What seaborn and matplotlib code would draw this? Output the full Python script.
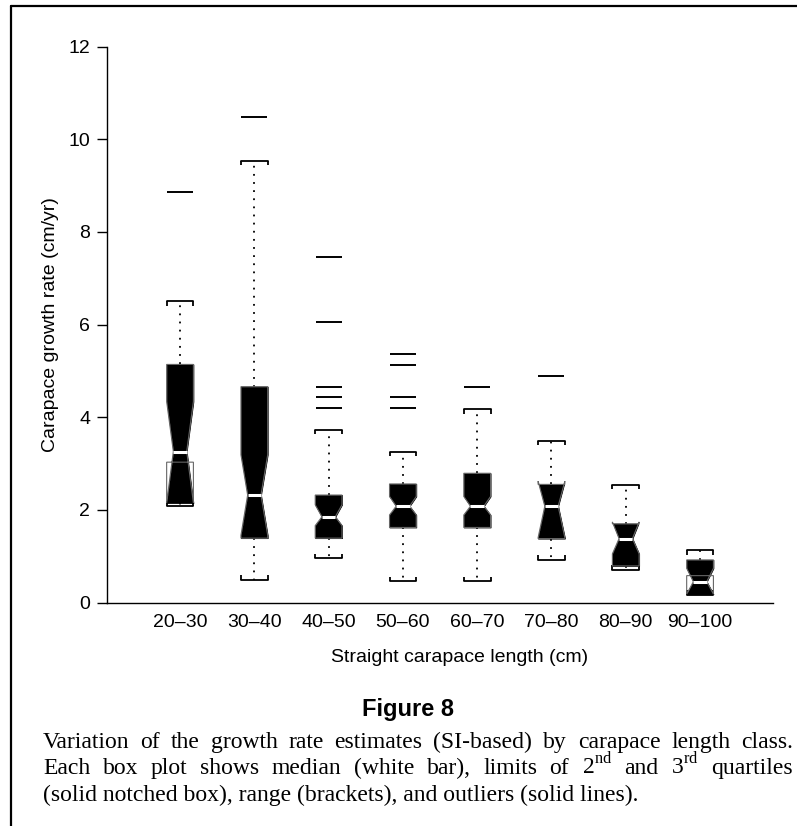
import matplotlib
matplotlib.use("Agg")
import matplotlib.pyplot as plt
from matplotlib.lines import Line2D
import numpy as np
import pandas as pd
import seaborn as sns

# carapace length classes (cm)
classes = ["20–30", "30–40", "40–50", "50–60", "60–70", "70–80", "80–90", "90–100"]

# box plot statistics (cm/yr)
range_low = [2.09, 0.49, 0.95, 0.46, 0.46, 0.92, 0.70, 0.17]
quart_low = [3.03, 1.39, 1.39, 1.62, 1.62, 1.38, 0.79, 0.58]
notch_low = [2.15, 1.45, 1.66, 1.89, 1.89, 1.40, 1.05, 0.18]
median = [3.26, 2.32, 1.85, 2.08, 2.08, 2.08, 1.38, 0.45]
notch_high = [4.34, 3.19, 2.11, 2.29, 2.29, 2.62, 1.74, 0.74]
quart_high = [5.14, 4.66, 2.32, 2.56, 2.79, 2.55, 1.70, 0.92]
range_high = [6.51, 9.54, 3.73, 3.26, 4.18, 3.49, 2.54, 1.13]

# outliers (drawn as solid lines)
outlier_class = ["20–30", "30–40", "40–50", "40–50", "40–50", "40–50", "40–50",
                 "50–60", "50–60", "50–60", "50–60", "60–70", "70–80"]
outlier_rate = [8.86, 10.49, 7.47, 6.06, 4.66, 4.43, 4.19,
                5.37, 5.13, 4.43, 4.19, 4.66, 4.89]

caption_lines = [
    "Variation of the growth rate estimates (SI-based) by carapace length class.",
    r"Each box plot shows median (white bar), limits of 2$^{\mathrm{nd}}$ and 3$^{\mathrm{rd}}$ quartiles",
    "(solid notched box), range (brackets), and outliers (solid lines).",
]

sns.set_theme(style="ticks")
plt.rcParams["font.family"] = ["Liberation Sans", "DejaVu Sans"]
plt.rcParams["mathtext.fontset"] = "custom"
plt.rcParams["mathtext.rm"] = "Liberation Serif"
for key in ["text.color", "axes.labelcolor", "xtick.color", "ytick.color", "axes.edgecolor"]:
    plt.rcParams[key] = "black"

W, H = 797, 826
fig = plt.figure(figsize=(W / 100, H / 100), dpi=100)
fig.patch.set_facecolor("white")
ax = fig.add_axes([107 / W, 1 - 602.5 / H, (773 - 107) / W, (602.5 - 46.7) / H])
ax.set_facecolor("white")

BOX_W = 0.36
pos = np.arange(len(classes))

stats = []
for i, c in enumerate(classes):
    stats.append(dict(label=c, whislo=range_low[i], q1=quart_low[i], cilo=notch_low[i],
                      med=median[i], cihi=notch_high[i], q3=quart_high[i],
                      whishi=range_high[i], fliers=[]))

# box outlines only; the solid body is filled below
ax.bxp(stats, positions=pos, widths=BOX_W, capwidths=BOX_W, shownotches=True,
       patch_artist=True, showfliers=False,
       boxprops=dict(facecolor="none", edgecolor="0.4", linewidth=0.8, zorder=2.6),
       medianprops=dict(color="white", linewidth=2.2, solid_capstyle="butt", zorder=4),
       whiskerprops=dict(color="black", linewidth=1.3, linestyle=(0, (1, 3.5))),
       capprops=dict(color="black", linewidth=1.3))

# solid notched silhouette
for i in range(len(classes)):
    bottom = min(quart_low[i], notch_low[i])
    knots = [bottom, notch_low[i], median[i], notch_high[i], max(quart_high[i], notch_high[i])]
    half = [1, 1, 0.5, 1, 1]
    yy = np.linspace(bottom, quart_high[i], 200)
    hw = np.interp(yy, knots, half) * BOX_W / 2
    ax.fill_betweenx(yy, pos[i] - hw, pos[i] + hw, color="black", linewidth=0.6,
                     edgecolor="black", zorder=2.5)

# bracket ends on the range caps
tick_h = 0.1
xs = np.r_[pos - BOX_W / 2, pos + BOX_W / 2]
hi = np.tile(range_high, 2)
lo = np.tile(range_low, 2)
ax.vlines(xs, hi - tick_h, hi, color="black", linewidth=1.3)
ax.vlines(xs, lo, lo + tick_h, color="black", linewidth=1.3)

out = pd.DataFrame({"pos": [classes.index(c) for c in outlier_class], "rate": outlier_rate})
sns.scatterplot(data=out, x="pos", y="rate", marker="_", s=350, color="black",
                linewidth=1.4, legend=False, zorder=3, ax=ax)

ax.set_xlim(-0.983, 7.982)
ax.set_ylim(0, 12)
ax.set_yticks(range(0, 13, 2))
ax.set_xticks(pos, classes)
ax.tick_params(axis="y", direction="out", length=7, width=1, pad=5, labelsize=14, colors="black")
ax.tick_params(axis="x", length=0, pad=8, labelsize=14, colors="black")
sns.despine(ax=ax)
for s in ["left", "bottom"]:
    ax.spines[s].set_color("black")
    ax.spines[s].set_linewidth(1.0)

ax.set_xlabel("Straight carapace length (cm)", fontsize=14, color="black")
ax.set_ylabel("Carapace growth rate (cm/yr)", fontsize=14, color="black")
ax.xaxis.label.set_va("center")
ax.xaxis.set_label_coords((460 - 107) / (773 - 107), (602.5 - 657) / (602.5 - 46.7))
ax.yaxis.label.set_va("center")
ax.yaxis.set_label_coords((51 - 107) / (773 - 107), 0.5)

# frame around the figure
fig.add_artist(Line2D([11 / W, 1], [1 - 6 / H, 1 - 6 / H], transform=fig.transFigure,
                      color="black", linewidth=1.6))
fig.add_artist(Line2D([11 / W, 11 / W], [0, 1 - 6 / H], transform=fig.transFigure,
                      color="black", linewidth=1.6))

fig.text(408 / W, 1 - 716 / H, "Figure 8", ha="center", va="baseline", color="black",
         fontsize=17, fontweight="bold", family=["Liberation Sans Narrow", "Liberation Sans"])

# caption, justified like the printed page
cap_kw = dict(fontsize=17, family="Liberation Serif", va="baseline", ha="left", color="black")
x0, x1 = 43, 793
baselines = [748, 774, 801]
fig.canvas.draw()
renderer = fig.canvas.get_renderer()
for k, line in enumerate(caption_lines):
    y = 1 - baselines[k] / H
    if k == len(caption_lines) - 1:
        fig.text(x0 / W, y, line, **cap_kw)
        continue
    words = line.split(" ")
    texts = [fig.text(0, y, w, **cap_kw) for w in words]
    widths = [t.get_window_extent(renderer).width for t in texts]
    gap = (x1 - x0 - sum(widths)) / (len(words) - 1)
    x = x0
    for t, w in zip(texts, widths):
        t.set_x(x / W)
        x += w + gap

fig.savefig("out.png", dpi=100)
